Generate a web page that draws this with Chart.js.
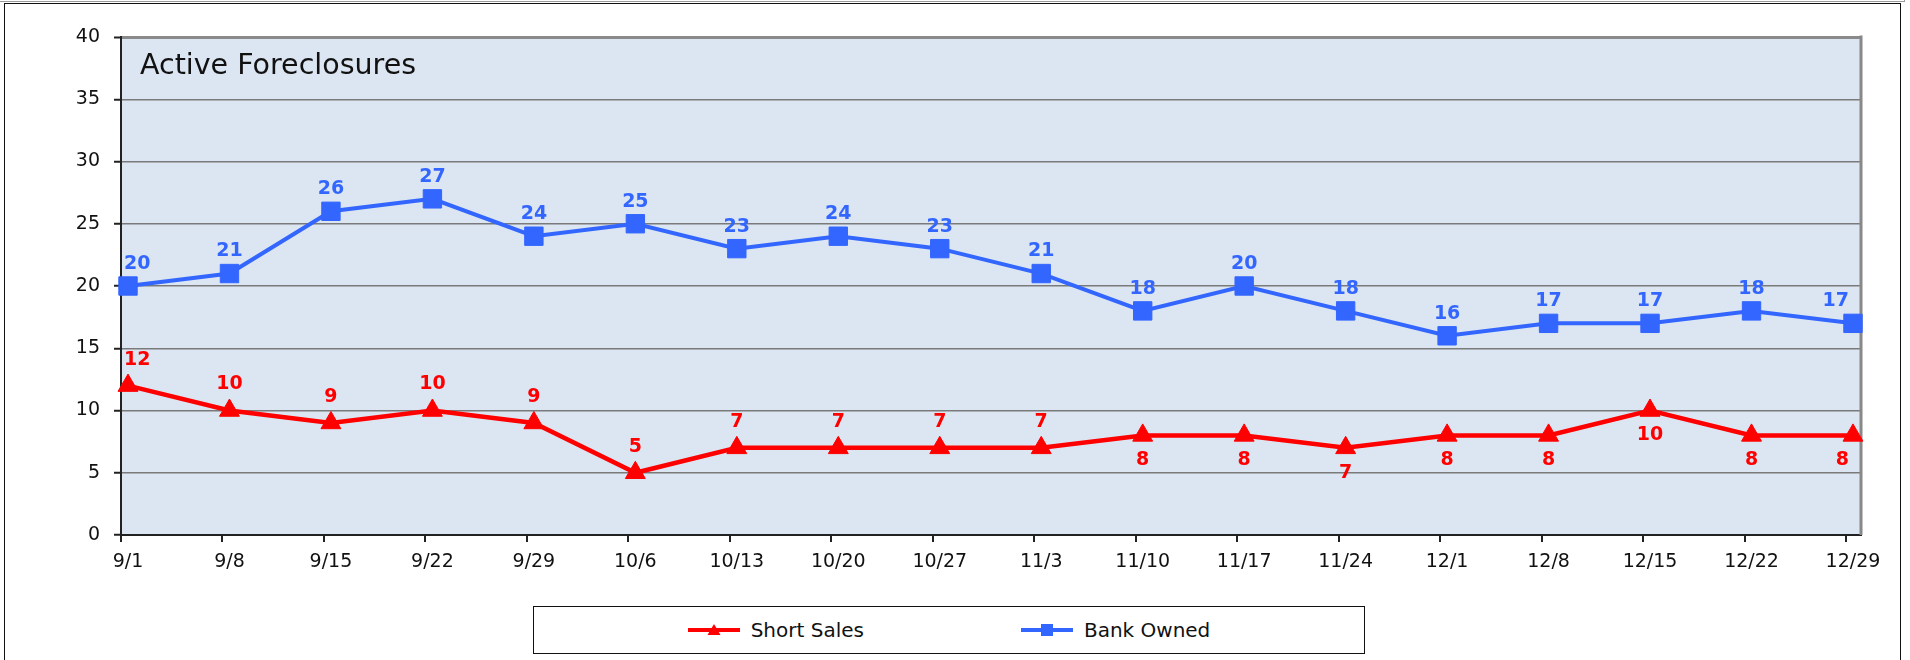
<!DOCTYPE html>
<html>
<head>
<meta charset="utf-8">
<title>Active Foreclosures</title>
<script src="https://cdn.jsdelivr.net/npm/chart.js@4.4.0/dist/chart.umd.min.js"></script>
<style>
    html, body { margin: 0; padding: 0; background: #fff; }
    body { width: 1910px; height: 660px; position: relative; overflow: hidden; font-family: "DejaVu Sans", sans-serif; }
    #topLine { position: absolute; left: 0; top: 0; width: 1904px; height: 1px; border-bottom: 1px solid #9a9a9a; border-right: 1px solid #9a9a9a; }
    #frame { position: absolute; left: 4px; top: 3px; width: 1897px; height: 700px; border: 1.5px solid #111; box-sizing: border-box; }
    #wrap { position: absolute; left: 0; top: 0; width: 1910px; height: 660px; }
    #legend {
        position: absolute; left: 533px; top: 606px; width: 832px; height: 48px;
        border: 1.5px solid #111; box-sizing: border-box; background: #fff;
        display: flex; justify-content: center; align-items: center; gap: 157px;
        font-size: 20px; color: #111;
    }
    #legend .item { display: flex; align-items: center; }
    #legend svg { margin-right: 11px; }
</style>
</head>
<body>
<div id="topLine"></div>
<div id="frame"></div>
<div id="wrap"><canvas id="chart" width="1910" height="660"></canvas></div>
<div id="legend"></div>
<script>
// weekly counts
const weeks = ['9/1', '9/8', '9/15', '9/22', '9/29', '10/6', '10/13', '10/20', '10/27', '11/3',
               '11/10', '11/17', '11/24', '12/1', '12/8', '12/15', '12/22', '12/29'];
const shortSales = [12, 10, 9, 10, 9, 5, 7, 7, 7, 7, 8, 8, 7, 8, 8, 10, 8, 8];
const bankOwned = [20, 21, 26, 27, 24, 25, 23, 24, 23, 21, 18, 20, 18, 16, 17, 17, 18, 17];
const yTicks = [0, 5, 10, 15, 20, 25, 30, 35, 40];

const RED = '#ff0000';
const BLUE = '#3366ff';
const FONT = '"DejaVu Sans", sans-serif';

// where the value label sits for each point
const shortLabelSide = ['up', 'up', 'up', 'up', 'up', 'up', 'up', 'up', 'up', 'up',
                        'down', 'down', 'down', 'down', 'down', 'down', 'down', 'down'];
const bankLabelSide = weeks.map(() => 'up');

const toPoints = vals => vals.map((v, i) => ({ x: i, y: v }));

const plotBg = {
    id: 'plotBg',
    beforeDraw(chart) {
        const { ctx, chartArea: a } = chart;
        ctx.save();
        ctx.fillStyle = '#dce6f2';
        ctx.fillRect(a.left, a.top, a.right - a.left, a.bottom - a.top);
        ctx.restore();
    },
    beforeDatasetsDraw(chart) {
        const { ctx, chartArea: a } = chart;
        ctx.save();
        ctx.strokeStyle = '#888';
        ctx.lineWidth = 3;
        ctx.beginPath();
        ctx.moveTo(a.right, a.top - 1.5);
        ctx.lineTo(a.right, a.bottom);
        ctx.stroke();
        // title sits inside the plot
        ctx.fillStyle = '#111';
        ctx.font = '28.5px ' + FONT;
        ctx.textBaseline = 'alphabetic';
        ctx.fillText('Active Foreclosures', a.left + 19, a.top + 37);
        ctx.restore();
    }
};

const valueLabels = {
    id: 'valueLabels',
    afterDatasetsDraw(chart) {
        const { ctx, chartArea: a } = chart;
        ctx.save();
        ctx.font = 'bold 19px ' + FONT;
        ctx.textAlign = 'center';
        ctx.textBaseline = 'middle';
        chart.data.datasets.forEach((ds, di) => {
            const meta = chart.getDatasetMeta(di);
            ctx.fillStyle = ds.borderColor;
            meta.data.forEach((pt, i) => {
                const txt = String(ds.data[i].y);
                const w = ctx.measureText(txt).width;
                const side = ds.labelSide[i];
                const y = side === 'up' ? pt.y - ds.labelUp : pt.y + 25;
                const x = Math.max(a.left + w / 2 + 3, Math.min(pt.x, a.right - w / 2 - 12));
                ctx.fillText(txt, x, y);
            });
        });
        ctx.restore();
    }
};

new Chart(document.getElementById('chart').getContext('2d'), {
    type: 'line',
    data: {
        datasets: [
            {
                label: 'Short Sales',
                data: toPoints(shortSales),
                labelSide: shortLabelSide,
                labelUp: 26,
                borderColor: RED,
                backgroundColor: RED,
                borderWidth: 4.5,
                pointStyle: 'triangle',
                pointRadius: 11.5,
                pointBorderWidth: 1,
                tension: 0,
                clip: false
            },
            {
                label: 'Bank Owned',
                data: toPoints(bankOwned),
                labelSide: bankLabelSide,
                labelUp: 22,
                borderColor: BLUE,
                backgroundColor: BLUE,
                borderWidth: 4,
                pointStyle: 'rect',
                pointRadius: 13,
                pointBorderWidth: 1,
                tension: 0,
                clip: false
            }
        ]
    },
    options: {
        responsive: false,
        animation: false,
        layout: { padding: { top: 37, right: 49, left: 0, bottom: 0 } },
        plugins: {
            legend: { display: false },
            tooltip: { enabled: false }
        },
        scales: {
            x: {
                type: 'linear',
                min: -0.069,
                max: 17.079,
                afterBuildTicks: s => { s.ticks = weeks.map((_, i) => ({ value: i - 0.069 })); },
                afterFit: s => { s.height = 125; },
                ticks: {
                    autoSkip: false,
                    maxRotation: 0,
                    labelOffset: 7,
                    padding: 9,
                    color: '#111',
                    font: { family: FONT, size: 19 },
                    callback: (v, i) => weeks[i]
                },
                grid: { drawOnChartArea: false, drawTicks: true, tickLength: 7, color: '#222', lineWidth: 2 },
                border: { color: '#222', width: 2 }
            },
            y: {
                min: 0,
                max: 40,
                afterBuildTicks: s => { s.ticks = yTicks.map(v => ({ value: v })); },
                afterFit: s => { s.width = 121; },
                ticks: {
                    padding: 14,
                    color: '#111',
                    font: { family: FONT, size: 19 }
                },
                grid: {
                    color: c => c.tick && c.tick.value === 40 ? '#8a8a8a' : '#7a7a7a',
                    lineWidth: c => c.tick && c.tick.value === 40 ? 3 : 1.5,
                    tickColor: '#222',
                    tickWidth: 2,
                    tickLength: 7
                },
                border: { color: '#222', width: 2 }
            }
        }
    },
    plugins: [plotBg, valueLabels]
});

// legend box, same look as the line markers
const legendItems = [
    { label: 'Short Sales', color: RED, marker: 'triangle' },
    { label: 'Bank Owned', color: BLUE, marker: 'rect' }
];
document.getElementById('legend').innerHTML = legendItems.map(it => {
    const mark = it.marker === 'triangle'
        ? `<polygon points="26,4 32.5,15 19.5,15" fill="${it.color}"/>`
        : `<rect x="20" y="4" width="12" height="12" fill="${it.color}"/>`;
    return `<div class="item"><svg width="52" height="20" viewBox="0 0 52 20">
        <line x1="0" y1="10" x2="52" y2="10" stroke="${it.color}" stroke-width="4"/>${mark}</svg>
        <span>${it.label}</span></div>`;
}).join('');
</script>
</body>
</html>
